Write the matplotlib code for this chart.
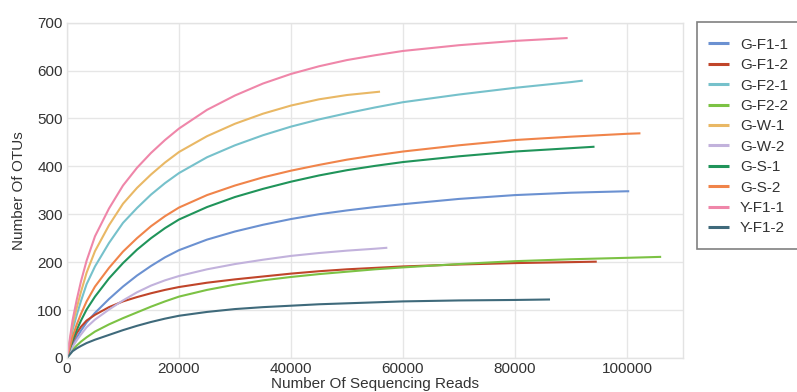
import matplotlib
matplotlib.use("Agg")
import matplotlib.pyplot as plt
from matplotlib.patches import Rectangle

plt.rcParams['font.family'] = ['Liberation Sans', 'DejaVu Sans']

x_pts = [0, 1000, 1750, 2500, 3500, 5000, 7500, 10000, 12500, 15000, 17500,
         20000, 25000, 30000, 35000, 40000, 45000, 50000, 55000, 60000,
         70000, 80000, 90000, 100000]

names = ["G-F1-1", "G-F1-2", "G-F2-1", "G-F2-2", "G-W-1",
         "G-W-2", "G-S-1", "G-S-2", "Y-F1-1", "Y-F1-2"]

# values read at x_pts (up to each curve's end), plus the curve's end point
g_f1_1 = [0, 27, 43, 57, 74, 94, 123, 149, 172, 192, 210, 225, 247, 264, 278,
          290, 300, 308, 315, 321, 332, 340, 345, 348]
g_f1_1_end = (100400, 348)
g_f1_2 = [0, 34, 52, 65, 78, 90, 106, 118, 127, 135, 142, 148, 157, 164, 170,
          176, 181, 185, 188, 191, 195, 198, 200]
g_f1_2_end = (94600, 201)
g_f2_1 = [0, 58, 90, 119, 154, 191, 240, 282, 313, 341, 365, 386, 419, 444,
          465, 483, 498, 511, 523, 534, 550, 564, 576]
g_f2_1_end = (92100, 579)
g_f2_2 = [0, 17, 26, 34, 43, 55, 70, 83, 95, 107, 118, 128, 142, 153, 162,
          169, 175, 180, 185, 189, 196, 202, 206, 209]
g_f2_2_end = (106100, 211)
g_w_1 = [0, 69, 105, 138, 178, 223, 277, 322, 355, 383, 408, 430, 463, 489,
         510, 527, 540, 549]
g_w_1_end = (55900, 556)
g_w_2 = [0, 23, 37, 49, 64, 80, 101, 120, 137, 151, 162, 171, 185, 196, 205,
         213, 219, 224, 228]
g_w_2_end = (57200, 230)
g_s_1 = [0, 37, 59, 78, 101, 128, 166, 198, 226, 250, 271, 289, 315, 336,
         353, 368, 381, 392, 401, 409, 421, 431, 438]
g_s_1_end = (94200, 441)
g_s_2 = [0, 44, 70, 92, 118, 149, 188, 222, 250, 275, 296, 314, 340, 360,
         377, 391, 403, 414, 423, 431, 444, 455, 462, 468]
g_s_2_end = (102400, 469)
y_f1_1 = [0, 79, 122, 160, 203, 254, 312, 360, 397, 428, 455, 479, 518, 548,
          573, 593, 609, 622, 632, 641, 653, 662]
y_f1_1_end = (89400, 668)
y_f1_2 = [0, 14, 20, 25, 31, 38, 48, 58, 67, 75, 82, 88, 96, 102, 106, 109,
          112, 114, 116, 118, 120, 121]
y_f1_2_end = (86250, 122)

series = [(g_f1_1, g_f1_1_end), (g_f1_2, g_f1_2_end), (g_f2_1, g_f2_1_end),
          (g_f2_2, g_f2_2_end), (g_w_1, g_w_1_end), (g_w_2, g_w_2_end),
          (g_s_1, g_s_1_end), (g_s_2, g_s_2_end), (y_f1_1, y_f1_1_end),
          (y_f1_2, y_f1_2_end)]

colors = ["#6b91d1", "#c0452a", "#76c1cb", "#7cc244", "#e9b865",
          "#c2b2dc", "#20945a", "#f0844a", "#ef86a9", "#3f6a7b"]

W, H = 797, 392
fig = plt.figure(figsize=(W/100, H/100), dpi=100)
ax = fig.add_axes([67/W, 1-357.9/H, (683-67)/W, (357.9-22.7)/H])

for name, (vals, end), c in zip(names, series, colors):
    xs = x_pts[:len(vals)] + [end[0]]
    ys = vals + [end[1]]
    ax.plot(xs, ys, color=c, lw=1.5, label=name, solid_capstyle='butt',
            solid_joinstyle='round')

ax.set_xlim(0, 110000)
ax.set_ylim(0, 700)
ax.set_xticks([0, 20000, 40000, 60000, 80000, 100000])
ax.set_yticks(range(0, 701, 100))
ax.grid(True, color="#e6e6e6", lw=1)
ax.set_axisbelow(True)
for s in ax.spines.values():
    s.set_color("#e3e3e3")
    s.set_linewidth(1)
ax.tick_params(length=0, labelsize=11, labelcolor="#333333", pad=3)
ax.set_xlabel("Number Of Sequencing Reads", fontsize=11, color="#333333", labelpad=1)
ax.set_ylabel("Number Of OTUs", fontsize=11, color="#333333", labelpad=8)

# legend frame (extends past the right edge of the figure)
frame = Rectangle((697/W, 1-249/H), 0.2, (249-22)/H, transform=fig.transFigure,
                  facecolor="white", edgecolor="#808080", lw=1.2, zorder=4)
fig.patches.append(frame)

leg = fig.legend(loc="upper left", bbox_to_anchor=(697/W, 1-27/H),
                 fontsize=11, frameon=False, borderpad=0.7,
                 handlelength=1.4, handletextpad=0.7,
                 labelspacing=0.42, borderaxespad=0)
leg.set_zorder(5)
for t in leg.get_texts():
    t.set_color("#333333")
for h in leg.legend_handles:
    h.set_linewidth(2.2)

fig.savefig("out.png", dpi=100)
